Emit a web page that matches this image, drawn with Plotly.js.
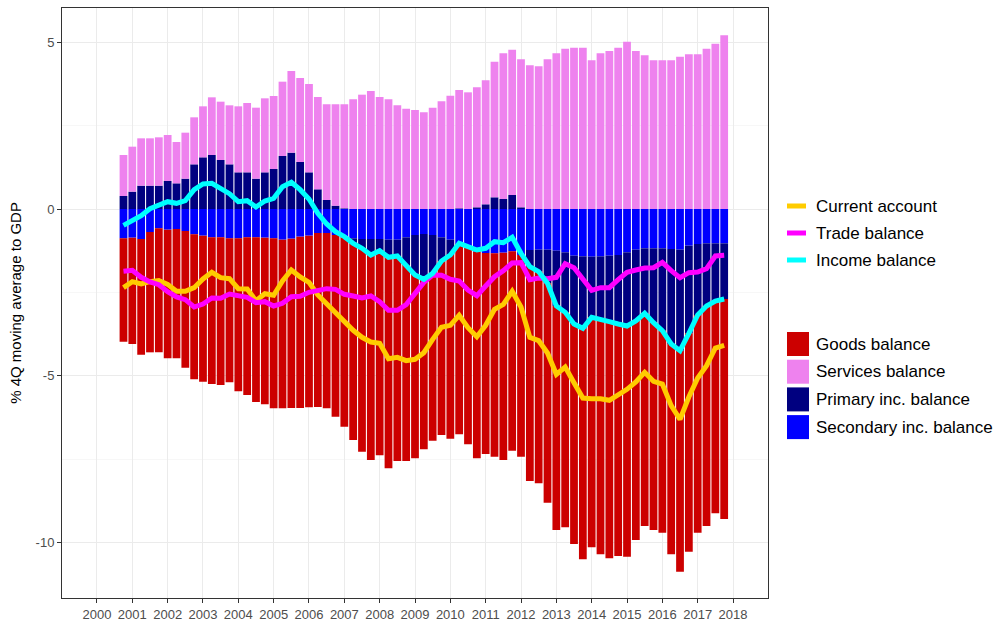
<!DOCTYPE html>
<html>
<head>
<meta charset="utf-8">
<script src="https://cdn.plot.ly/plotly-3.0.1.min.js"></script>
<style>
  html, body { margin: 0; padding: 0; background: #ffffff; }
  #chart { width: 995px; height: 623px; }
</style>
</head>
<body>
<div id="chart"></div>
<script>
// Quarter of each observation (4Q moving averages)
const quarters = [
  '2000Q4',
  '2001Q1','2001Q2','2001Q3','2001Q4','2002Q1','2002Q2','2002Q3','2002Q4',
  '2003Q1','2003Q2','2003Q3','2003Q4','2004Q1','2004Q2','2004Q3','2004Q4',
  '2005Q1','2005Q2','2005Q3','2005Q4','2006Q1','2006Q2','2006Q3','2006Q4',
  '2007Q1','2007Q2','2007Q3','2007Q4','2008Q1','2008Q2','2008Q3','2008Q4',
  '2009Q1','2009Q2','2009Q3','2009Q4','2010Q1','2010Q2','2010Q3','2010Q4',
  '2011Q1','2011Q2','2011Q3','2011Q4','2012Q1','2012Q2','2012Q3','2012Q4',
  '2013Q1','2013Q2','2013Q3','2013Q4','2014Q1','2014Q2','2014Q3','2014Q4',
  '2015Q1','2015Q2','2015Q3','2015Q4','2016Q1','2016Q2','2016Q3','2016Q4',
  '2017Q1','2017Q2','2017Q3','2017Q4'
];

// Bar components (% of GDP)
const goodsBalance = [
  -3.10,-3.19,-3.47,-3.61,-3.72,-3.86,-3.88,-4.10,-4.35,-4.38,
  -4.40,-4.43,-4.32,-4.59,-4.73,-4.94,-5.00,-5.10,-5.06,-5.08,
  -5.14,-5.15,-5.22,-5.26,-5.45,-5.68,-5.90,-6.10,-6.15,-6.14,
  -6.33,-6.15,-5.88,-5.50,-5.10,-5.02,-5.22,-5.51,-5.71,-5.93,
  -6.20,-6.03,-6.10,-6.22,-5.98,-6.05,-6.43,-6.35,-6.58,-6.72,
  -6.45,-6.60,-6.93,-6.90,-7.03,-7.10,-6.96,-6.92,-6.57,-6.38,
  -6.22,-6.06,-6.31,-6.63,-6.55,-6.53,-6.60,-6.37,-6.60
];
const servicesBalance = [
  1.23,1.35,1.42,1.42,1.45,1.38,1.24,1.38,1.41,1.53,
  1.73,1.75,1.77,1.98,2.08,2.13,2.22,2.19,2.23,2.45,
  2.52,2.65,2.77,2.87,3.04,3.12,3.29,3.43,3.54,3.36,
  3.29,3.11,3.01,2.97,2.90,3.04,3.23,3.40,3.55,3.50,
  3.60,3.72,4.07,4.37,4.36,4.44,4.31,4.28,4.49,4.67,
  4.81,4.84,4.84,4.46,4.67,4.74,4.84,5.02,4.74,4.61,
  4.46,4.46,4.46,4.57,4.64,4.64,4.81,4.96,5.21
];
const primaryIncBalance = [
  0.39,0.52,0.70,0.70,0.70,0.84,0.77,0.91,1.34,1.55,
  1.62,1.47,1.34,1.10,1.10,0.91,1.10,1.20,1.59,1.69,
  1.41,1.10,0.59,0.27,0.10,0.02,-0.15,-0.28,-0.48,-0.35,
  -0.53,-0.49,-0.83,-1.20,-1.36,-1.15,-0.71,-0.46,0.02,-0.01,
  0.05,0.14,0.35,0.30,0.42,0.05,-0.50,-0.66,-1.01,-1.66,
  -1.80,-2.05,-2.16,-1.82,-1.91,-1.98,-2.07,-2.21,-2.14,-1.95,
  -2.23,-2.47,-2.85,-3.03,-2.63,-2.13,-1.88,-1.73,-1.67
];
const secondaryIncBalance = [
  -0.88,-0.86,-0.90,-0.69,-0.58,-0.62,-0.60,-0.66,-0.76,-0.80,
  -0.85,-0.85,-0.88,-0.88,-0.85,-0.85,-0.86,-0.88,-0.92,-0.89,
  -0.83,-0.80,-0.72,-0.72,-0.78,-0.85,-0.88,-0.90,-0.90,-0.90,
  -0.92,-0.92,-0.85,-0.78,-0.75,-0.78,-0.85,-0.92,-1.05,-1.12,
  -1.28,-1.32,-1.33,-1.31,-1.27,-1.38,-1.23,-1.22,-1.22,-1.25,
  -1.30,-1.40,-1.42,-1.43,-1.42,-1.40,-1.38,-1.30,-1.22,-1.18,
  -1.18,-1.18,-1.20,-1.22,-1.10,-1.05,-1.03,-1.03,-1.03
];

// Line series (% of GDP)
const currentAccount = [
  -2.36,-2.18,-2.25,-2.18,-2.15,-2.26,-2.47,-2.47,-2.36,-2.10,
  -1.90,-2.06,-2.09,-2.39,-2.40,-2.75,-2.54,-2.59,-2.16,-1.83,
  -2.04,-2.20,-2.58,-2.84,-3.09,-3.39,-3.64,-3.85,-3.99,-4.03,
  -4.49,-4.45,-4.55,-4.51,-4.31,-3.91,-3.55,-3.49,-3.19,-3.56,
  -3.83,-3.49,-3.01,-2.86,-2.47,-2.94,-3.85,-3.95,-4.32,-4.96,
  -4.74,-5.21,-5.67,-5.69,-5.69,-5.74,-5.57,-5.41,-5.19,-4.90,
  -5.17,-5.25,-5.90,-6.31,-5.64,-5.07,-4.70,-4.17,-4.09
];
const tradeBalance = [
  -1.87,-1.84,-2.05,-2.19,-2.27,-2.48,-2.64,-2.72,-2.94,-2.85,
  -2.67,-2.68,-2.55,-2.61,-2.65,-2.81,-2.78,-2.91,-2.83,-2.63,
  -2.62,-2.50,-2.45,-2.39,-2.41,-2.56,-2.61,-2.67,-2.61,-2.78,
  -3.04,-3.04,-2.87,-2.53,-2.20,-1.98,-1.99,-2.11,-2.16,-2.43,
  -2.60,-2.31,-2.03,-1.85,-1.62,-1.61,-2.12,-2.07,-2.09,-2.05,
  -1.64,-1.76,-2.09,-2.44,-2.36,-2.36,-2.12,-1.90,-1.83,-1.77,
  -1.76,-1.60,-1.85,-2.06,-1.91,-1.89,-1.79,-1.41,-1.39
];
const incomeBalance = [
  -0.49,-0.34,-0.20,0.01,0.12,0.22,0.17,0.25,0.58,0.75,
  0.77,0.62,0.46,0.22,0.25,0.06,0.24,0.32,0.67,0.80,
  0.58,0.30,-0.13,-0.45,-0.68,-0.83,-1.03,-1.18,-1.38,-1.25,
  -1.45,-1.41,-1.68,-1.98,-2.11,-1.93,-1.56,-1.38,-1.03,-1.13,
  -1.23,-1.18,-0.98,-1.01,-0.85,-1.33,-1.73,-1.88,-2.23,-2.91,
  -3.10,-3.45,-3.58,-3.25,-3.33,-3.38,-3.45,-3.51,-3.36,-3.13,
  -3.41,-3.65,-4.05,-4.25,-3.73,-3.18,-2.91,-2.76,-2.70
];

// Axis ticks
const xTickVals = [2000,2001,2002,2003,2004,2005,2006,2007,2008,2009,2010,2011,2012,2013,2014,2015,2016,2017,2018];
const xTickText = ['2000','2001','2002','2003','2004','2005','2006','2007','2008','2009','2010','2011','2012','2013','2014','2015','2016','2017','2018'];
const yTickVals = [5, 0, -5, -10];
const yTickText = ['5', '0', '-5', '-10'];

// Legend entries
const lineNames = ['Current account', 'Trade balance', 'Income balance'];
const barNames = ['Goods balance', 'Services balance', 'Primary inc. balance', 'Secondary inc. balance'];

// Quarter label -> decimal year position (start of quarter)
const xPos = quarters.map(q => parseInt(q.slice(0, 4), 10) + (parseInt(q.slice(5), 10) - 1) * 0.25);

const FONT = 'Liberation Sans, Arial, sans-serif';
const COLORS = {
  'Current account': '#FFCC00', 'Trade balance': '#FF00FF', 'Income balance': '#00FFFF',
  'Goods balance': '#CC0000', 'Services balance': '#EE82EE',
  'Primary inc. balance': '#000080', 'Secondary inc. balance': '#0000FF'
};

function barTrace(name, y) {
  return { type: 'bar', name: name, x: xPos, y: y, showlegend: false,
           marker: { color: COLORS[name], line: { width: 0 } } };
}
function lineTrace(name, y) {
  return { type: 'scatter', mode: 'lines', name: name, x: xPos, y: y, showlegend: false,
           line: { color: COLORS[name], width: 5 } };
}

const data = [
  barTrace('Secondary inc. balance', secondaryIncBalance),
  barTrace('Primary inc. balance', primaryIncBalance),
  barTrace('Services balance', servicesBalance),
  barTrace('Goods balance', goodsBalance),
  lineTrace('Current account', currentAccount),
  lineTrace('Trade balance', tradeBalance),
  lineTrace('Income balance', incomeBalance)
];

// Plot-area geometry (pixels) used to place the legend in paper coordinates
const M = { l: 62, r: 227, t: 8, b: 25 };
const W = 995, H = 623;
const PW = W - M.l - M.r, PH = H - M.t - M.b;
const px = v => (v - M.l) / PW;
const py = v => (H - M.b - v) / PH;

const shapes = [];
const annotations = [];
lineNames.forEach((n, i) => {
  const cy = 206 + i * 27;
  shapes.push({ type: 'line', xref: 'paper', yref: 'paper', x0: px(787), x1: px(806), y0: py(cy), y1: py(cy),
                line: { color: COLORS[n], width: 5 } });
  annotations.push({ xref: 'paper', yref: 'paper', x: px(814), y: py(cy), xanchor: 'left', yanchor: 'middle',
                     text: n, showarrow: false, font: { family: FONT, size: 17, color: '#000000' } });
});
barNames.forEach((n, i) => {
  const cy = 344 + i * 27.7;
  shapes.push({ type: 'rect', xref: 'paper', yref: 'paper', x0: px(787), x1: px(809), y0: py(cy - 12), y1: py(cy + 12),
                fillcolor: COLORS[n], line: { width: 0 } });
  annotations.push({ xref: 'paper', yref: 'paper', x: px(814), y: py(cy), xanchor: 'left', yanchor: 'middle',
                     text: n, showarrow: false, font: { family: FONT, size: 17, color: '#000000' } });
});

const layout = {
  width: W, height: H,
  margin: M,
  paper_bgcolor: '#ffffff', plot_bgcolor: '#ffffff',
  font: { family: FONT, color: '#000000' },
  barmode: 'relative', bargap: 0.12,
  showlegend: false,
  shapes: shapes,
  annotations: annotations,
  xaxis: {
    range: [1999.01, 2018.99], tickmode: 'array', tickvals: xTickVals, ticktext: xTickText,
    ticks: 'outside', ticklen: 4, tickcolor: '#333333', tickwidth: 1,
    tickfont: { family: FONT, size: 13, color: '#4D4D4D' },
    showgrid: true, gridcolor: '#EBEBEB', gridwidth: 1,
    showline: true, mirror: true, linecolor: '#333333', linewidth: 1,
    zeroline: false, fixedrange: true
  },
  yaxis: {
    range: [-11.67, 6.03], tickmode: 'array', tickvals: yTickVals, ticktext: yTickText,
    ticks: 'outside', ticklen: 4, tickcolor: '#333333', tickwidth: 1,
    tickfont: { family: FONT, size: 13, color: '#4D4D4D' },
    showgrid: true, gridcolor: '#EBEBEB', gridwidth: 1,
    minor: { tickvals: [2.5, -2.5, -7.5], showgrid: true, gridcolor: '#F2F2F2', gridwidth: 0.6, ticks: '' },
    showline: true, mirror: true, linecolor: '#333333', linewidth: 1,
    zeroline: false, fixedrange: true,
    title: { text: '% 4Q moving average to GDP', font: { family: FONT, size: 15, color: '#000000' }, standoff: 10 }
  }
};

Plotly.newPlot('chart', data, layout, { staticPlot: true, displayModeBar: false });
</script>
</body>
</html>
